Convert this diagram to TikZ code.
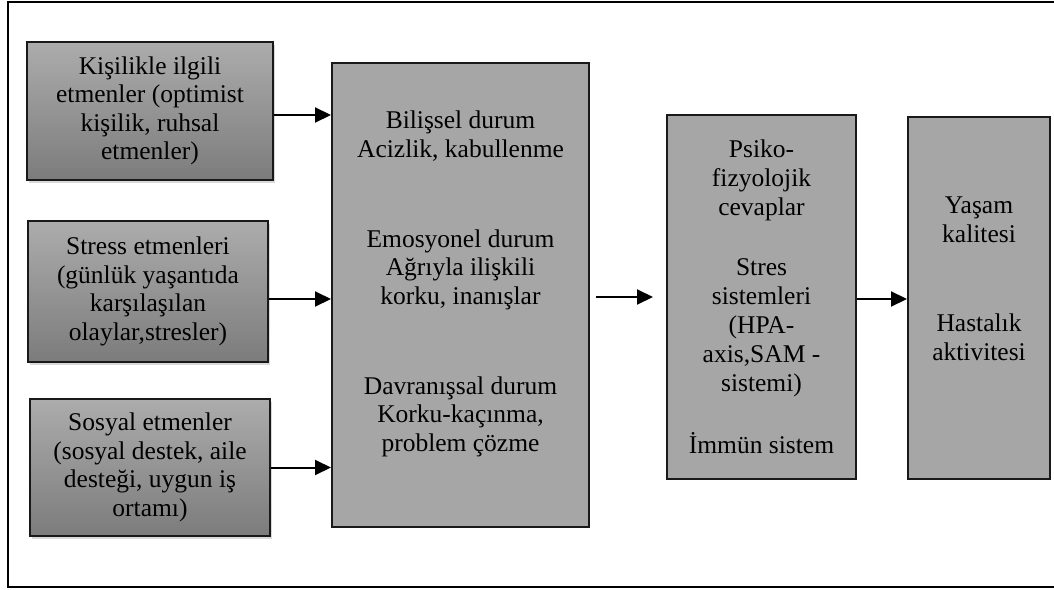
\documentclass[tikz,border=0pt]{standalone}
\usepackage{fontspec}
\setmainfont{Liberation Serif}
\usetikzlibrary{arrows.meta,positioning,shadows}
\definecolor{boxgray}{RGB}{166,166,166}
\definecolor{facttop}{RGB}{172,172,172}
\definecolor{factbot}{RGB}{124,124,124}

\begin{document}
\begin{tikzpicture}[
      x=1pt,y=1pt,
      fac/.style={draw=black!90,line width=2pt,top color=facttop,bottom color=factbot,
        drop shadow={shadow xshift=2pt,shadow yshift=-3pt,opacity=.3},
        align=center,font=\fontsize{25.5}{28.5}\selectfont,inner sep=2pt},
      blk/.style={draw=black!90,line width=2pt,fill=boxgray},
      txt/.style={align=center,font=\fontsize{25.5}{28.5}\selectfont},
      arr/.style={-{Triangle[length=16pt,width=15pt]},line width=2pt}
    ]
    \useasboundingbox (0,0) rectangle (1054,-589);
    \draw[line width=2pt] (8,-1.5) rectangle (1080,-587);

    % factors
    \node[fac,minimum width=246pt,minimum height=138pt] (pers) at (150,-111)
      {Kişilikle ilgili\\etmenler (optimist\\kişilik, ruhsal\\etmenler)};
    \node[fac,minimum width=240pt,minimum height=141pt,below=39pt of pers,xshift=-2pt] (stres)
      {Stress etmenleri\\(günlük yaşantıda\\karşılaşılan\\olaylar,stresler)};
    \node[fac,minimum width=240pt,minimum height=137pt,below=35pt of stres,xshift=2pt] (sosyal)
      {Sosyal etmenler\\(sosyal destek, aile\\desteği, uygun iş\\ortamı)};

    % states
    \node[blk,minimum width=257pt,minimum height=464pt] (durum) at (460.5,-295) {};
    \node[txt] (durumtxt) at ([yshift=11pt]durum.center)
      {Bilişsel durum\\Acizlik, kabullenme\\[61.5pt]Emosyonel durum\\Ağrıyla ilişkili\\korku, inanışlar\\[61.5pt]Davranışsal durum\\Korku-kaçınma,\\problem çözme};

    \node[blk,minimum width=189pt,minimum height=364pt,right=76pt of durum,yshift=-2pt,
      txt,font=\fontsize{25.5}{29}\selectfont] (psiko)
      {Psiko-\\fizyolojik\\cevaplar\\[31pt]Stres\\sistemleri\\(HPA-\\axis,SAM -\\sistemi)\\[33pt]İmmün sistem};

    \node[blk,minimum width=142pt,minimum height=362pt,right=50pt of psiko,yshift=-1pt] (sonuc) {};
    \node[txt] (sonuctxt) at ([yshift=19pt]sonuc.center)
      {Yaşam\\kalitesi\\[61pt]Hastalık\\aktivitesi};

    \draw[arr] ([yshift=-4pt]pers.east) -- ([yshift=-4pt]pers.east -| durum.west);
    \draw[arr] ([yshift=-7.5pt]stres.east) -- ([yshift=-7.5pt]stres.east -| durum.west);
    \draw[arr] (sosyal.east) -- (sosyal.east -| durum.west);
    \draw[arr] ([xshift=6pt,yshift=-2pt]durum.east) -- ([xshift=-13pt]psiko.west);
    \draw[arr] ([yshift=-2pt]psiko.east) -- ([yshift=-2pt]psiko.east -| sonuc.west);
  \end{tikzpicture}
\end{document}
